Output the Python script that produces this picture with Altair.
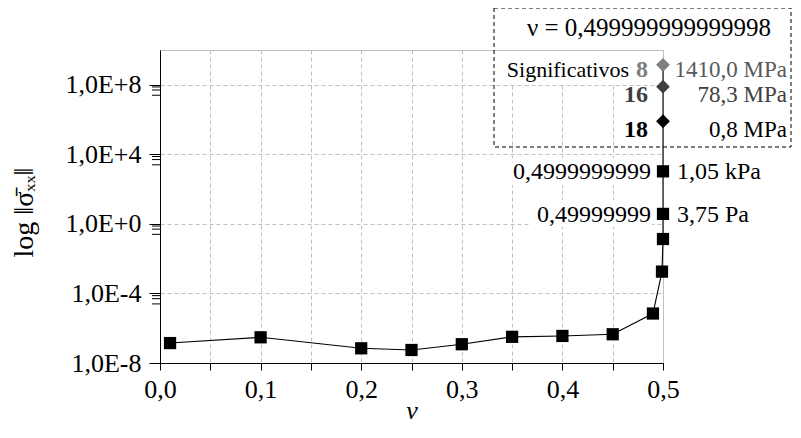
import altair as alt
import pandas as pd

# ---------------- data ----------------
nu = [0.01, 0.1, 0.2, 0.25, 0.3, 0.35, 0.4, 0.45, 0.49, 0.499, 0.49999,
      0.49999999, 0.4999999999]
sigma = [1.4e-7, 3.0e-7, 7.0e-8, 5.6e-8, 1.2e-7, 3.2e-7, 3.6e-7, 4.5e-7,
         7.0e-6, 1.8e-3, 0.135, 3.75, 1050.0]

# labelled squares
sq_lab_nu = [0.49999999, 0.4999999999]
sq_lab_sigma = [3.75, 1050.0]
sq_lab_left = ["0,49999999", "0,4999999999"]
sq_lab_right = ["3,75 Pa", "1,05 kPa"]

# significant-digit diamonds at nu = 0.499999999999998
nu_sig = 0.499999999999998
sig_digits = ["8", "16", "18"]
sig_values = [1.41e9, 7.83e7, 8.0e5]
sig_labels = ["1410,0 MPa", "78,3 MPa", "0,8 MPa"]

x_tick_values = [0.0, 0.05, 0.1, 0.15, 0.2, 0.25, 0.3, 0.35, 0.4, 0.45, 0.5]
y_tick_values = [1e-8, 1e-4, 1e0, 1e4, 1e8]
y_minor_fracs = [0.75, 0.5, 0.25]

# ---------------- styles ----------------
FONT = "Liberation Serif"
W, H = 503, 313
sig_colors = ["#7f7f7f", "#404040", "#000000"]
sig_text_colors = ["#595959", "#404040", "#000000"]
sig_dy = [5, 8, 9]
GRID = "#c0c0c0"

sq = pd.DataFrame({"nu": nu, "sigma": sigma})
order_sig = sorted(range(3), key=lambda i: sig_values[i])
line_df = pd.DataFrame({
    "nu": nu + [nu_sig] * 3,
    "sigma": sigma + [sig_values[i] for i in order_sig],
})
line_df["order"] = range(len(line_df))
sq_lab = pd.DataFrame({"nu": sq_lab_nu, "sigma": sq_lab_sigma,
                       "left": sq_lab_left, "right": sq_lab_right})
dm = pd.DataFrame({"nu": [nu_sig] * 3, "sigma": sig_values,
                   "digits": sig_digits, "label": sig_labels,
                   "color": sig_colors, "tcolor": sig_text_colors})
minor_vals = [t * f for t in y_tick_values[1:] for f in y_minor_fracs]
minor_df = pd.DataFrame({"sigma": minor_vals, "nu": [0.0] * len(minor_vals)})
dummy = pd.DataFrame({"a": [0]})

xs = alt.Scale(domain=[0, 0.5], nice=False, zero=False)
ys = alt.Scale(type="log", domain=[1e-8, 1e10], nice=False)

x_axis = alt.Axis(
    values=x_tick_values,
    labelExpr="round(datum.value*20) % 2 == 0 ? replace(format(datum.value, '.1f'), '.', ',') : ''",
    grid=True, gridDash=[4, 3], gridColor=GRID, gridWidth=1,
    tickSize=7, tickColor="black", domainColor="black", tickWidth=1,
    labelFont=FONT, labelFontSize=26, labelColor="black", labelPadding=6,
    labelFlush=False,
    title="ν", titleFont=FONT, titleFontStyle="italic", titleFontWeight="normal",
    titleFontSize=26, titleColor="black", titleY=55, titleBaseline="alphabetic",
)
y_axis = alt.Axis(
    values=y_tick_values,
    labelExpr="'1,0E' + (round(log(datum.value)/LN10) >= 0 ? '+' : '') + round(log(datum.value)/LN10)",
    grid=True, gridDash=[4, 3], gridColor=GRID, gridWidth=1,
    tickSize=11, tickColor="black", domainColor="black", tickWidth=1,
    labelFont=FONT, labelFontSize=26, labelColor="black", labelPadding=8,
    labelFlush=False,
    title="log ‖σ̄ₓₓ‖", titleFont=FONT, titleFontWeight="normal",
    titleFontSize=28, titleColor="black", titleAngle=270,
    titleX=-136, titleY=162, titleAlign="center", titleBaseline="middle",
)

X = lambda: alt.X("nu:Q", scale=xs, axis=x_axis)
Y = lambda: alt.Y("sigma:Q", scale=ys, axis=y_axis)


def white_box(x1, x2, y1, y2):
    return alt.Chart(dummy).mark_rect(color="white").encode(
        x=alt.value(x1), x2=alt.value(x2), y=alt.value(y1), y2=alt.value(y2))


masks = [
    white_box(334, 501, 1, 34),
    white_box(370, 492, 150, 177),
    white_box(345, 492, 108, 135),
]

minor = alt.Chart(minor_df).mark_rule(color="black", strokeWidth=1).encode(
    x=alt.value(-8), x2=alt.value(0), y=Y())

line = alt.Chart(line_df).mark_line(color="black", strokeWidth=1.1).encode(
    x=X(), y=Y(), order="order:Q")

squares = alt.Chart(sq).mark_point(shape="square", filled=True, color="black",
                                   size=150, opacity=1).encode(x=X(), y=Y())

diamonds = alt.Chart(dm).mark_point(shape="diamond", filled=True, size=190,
                                    opacity=1).encode(
    x=X(), y=Y(), color=alt.Color("color:N", scale=None))

left_txt = alt.Chart(sq_lab).mark_text(align="right", baseline="middle", dx=-12, dy=1,
                                       font=FONT, fontSize=24, color="black").encode(
    x=X(), y=Y(), text="left:N")
right_txt = alt.Chart(sq_lab).mark_text(align="left", baseline="middle", dx=14, dy=1,
                                        font=FONT, fontSize=24, color="black").encode(
    x=X(), y=Y(), text="right:N")

sig_layers = []
for i in range(3):
    row = dm.iloc[[i]]
    sig_layers.append(alt.Chart(row).mark_text(
        align="right", baseline="middle", dx=-15, dy=sig_dy[i], font=FONT,
        fontSize=24, fontWeight="bold", color=sig_colors[i]).encode(
        x=X(), y=Y(), text="digits:N"))
    sig_layers.append(alt.Chart(row).mark_text(
        align="right", baseline="middle", dx=124, dy=sig_dy[i], font=FONT,
        fontSize=23, color=sig_text_colors[i]).encode(
        x=X(), y=Y(), text="label:N"))
sig_layers.append(alt.Chart(dm.iloc[[0]]).mark_text(
    align="right", baseline="middle", dx=-34, dy=sig_dy[0], font=FONT,
    fontSize=22, color="black").encode(
    x=X(), y=Y(), text=alt.value("Significativos")))

box = alt.Chart(dummy).mark_rect(fill=None, stroke="black", strokeDash=[4, 3],
                                 strokeWidth=1).encode(
    x=alt.value(334), x2=alt.value(631), y=alt.value(-42), y2=alt.value(97))

nu_title = alt.Chart(dummy).mark_text(align="center", baseline="middle", font=FONT,
                                      fontSize=25, color="black").encode(
    x=alt.value(489), y=alt.value(-22), text=alt.value("ν =  0,499999999999998"))

chart = alt.layer(
    *masks, minor, line, squares, diamonds, left_txt, right_txt,
    *sig_layers, box, nu_title
).properties(
    width=W, height=H,
    autosize=alt.AutoSizeParams(type="none"),
    padding={"left": 152, "top": 42, "right": 130, "bottom": 62},
    background="white",
).configure_view(stroke="#bfbfbf", strokeWidth=1)

chart.save("out.html", embed_options={"renderer": "svg", "actions": False})
